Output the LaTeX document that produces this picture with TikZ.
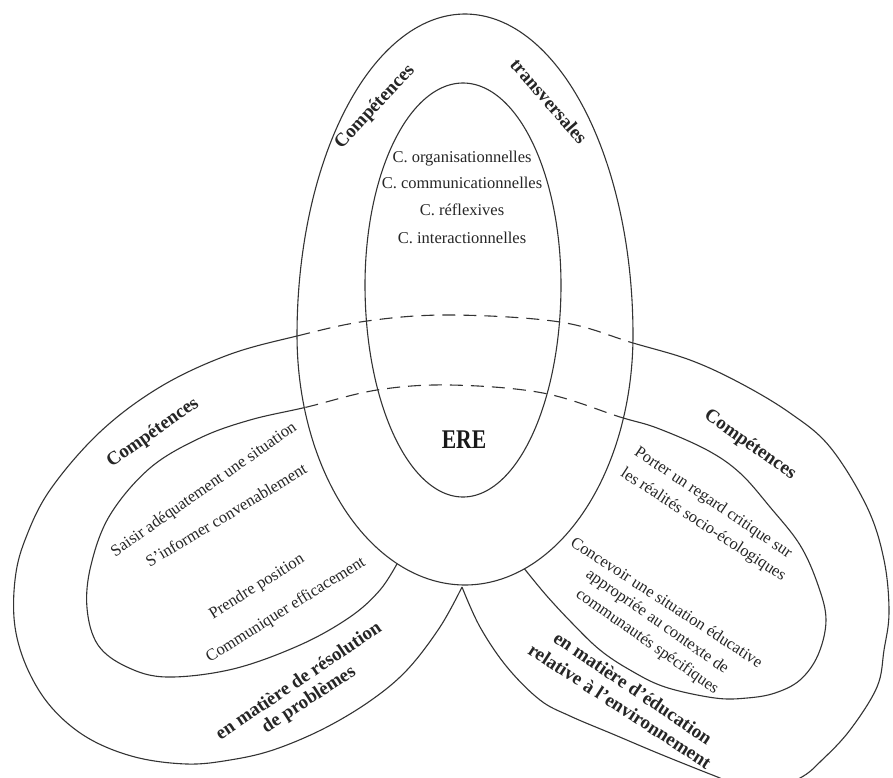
\documentclass[tikz,border=0pt]{standalone}
\usepackage{fontspec}
\setmainfont{Liberation Serif}
\begin{document}
\begin{tikzpicture}[x=1pt,y=-1pt,
  line width=1.1pt, draw=black!80,
  txt/.style={font=\fontsize{16.5}{18}\selectfont, text=black!85, inner sep=0pt},
  hd/.style={font=\fontsize{19}{22}\selectfont\bfseries, text=black!85, inner sep=0pt},
  big/.style={font=\fontsize{27}{29}\selectfont\bfseries, text=black!90, inner sep=0pt},
  hidden/.style={dash pattern=on 13pt off 8pt}]

\useasboundingbox (0,0) rectangle (893,777);
\fill[white] (0,0) rectangle (893,777);

% outer boundary of the upper ring (egg shape)
\newcommand{\ovalTop}{plot[domain=0:180,samples=120] ({465+168*cos(\x)},{335-321*sin(\x)})
  -- plot[domain=180:360,samples=120] ({465+168*cos(\x)},{335-250*sin(\x)}) -- cycle}
% outer boundary of the two lower rings (one band passing under the upper ring)
\newcommand{\bandOuter}{plot[smooth,tension=0.6] coordinates {
  (462,587) (440,627) (407,670) (370,701) (323,729) (273,750) (230,760) (187,764)
  (135,757) (88,738) (52,708) (28,670) (15,627) (15,580) (25,540) (50,490)
  (100,432) (160,387) (228,355) (297,336) (367,321) (450,315) (560,322) (633,343)
  (690,360) (740,383) (790,413) (830,447) (867,507) (884,560) (889,612) (884,650)
  (877,687) (850,730) (822,760) (800,778) (760,793) (715,776) (660,754) (615,735)
  (570,716) (540,700) (507,667) (480,627) (462,587)}}
% inner boundary of the two lower rings
\newcommand{\bandInner}{plot[smooth,tension=0.6] coordinates {
  (398,562) (380,590) (350,617) (300,645) (233,669) (167,677) (127,667) (98,645)
  (87,608) (91,565) (110,515) (150,468) (200,438) (250,420) (307,407) (377,390)
  (450,385) (543,393) (620,417) (657,428) (707,450) (740,473) (770,507) (800,545)
  (818,585) (826,620) (818,655) (800,680) (775,693) (747,698) (715,698) (665,687)
  (630,670) (600,650) (572,623) (546,595) (523,567)}}

% upper ring
\draw \ovalTop;
\draw plot[domain=0:180,samples=120] ({463+98*cos(\x)},{285-202*sin(\x)})
  -- plot[domain=180:360,samples=120] ({463+98*cos(\x)},{285-212*sin(\x)}) -- cycle;

% lower band: visible parts
\begin{scope}[even odd rule]
  \clip (-20,-20) rectangle (913,800) \ovalTop;
  \draw \bandOuter;
  \draw \bandInner;
\end{scope}
% lower band: parts hidden behind the upper ring
\begin{scope}
  \clip (0,0) rectangle (893,450);
  \clip \ovalTop;
  \draw[hidden] \bandOuter;
  \draw[hidden] \bandInner;
\end{scope}

% upper ring texts
\node[hd, rotate=47] (tTitleA) at (375,107) {Compétences};
\node[hd, rotate=-49] (tTitleB) at (549,101) {transversales};
\node[txt, anchor=base] (tl1) at (462,162) {C. organisationnelles};
\node[txt, anchor=base] (tl2) at (462,188) {C. communicationnelles};
\node[txt, anchor=base] (tl3) at (462,215) {C. réflexives};
\node[txt, anchor=base] (tl4) at (462,243) {C. interactionnelles};
\node[big, anchor=base] (ere) at (464,448) {\scalebox{0.8}[1]{ERE}};

% left ring texts
\node[hd, rotate=35] (lTitle) at (153,433) {Compétences};
\node[txt, rotate=35] (l1) at (204,490) {Saisir adéquatement une situation};
\node[txt, rotate=31] (l2) at (226,515) {S’informer convenablement};
\node[txt, rotate=32] (l3) at (257,587) {Prendre position};
\node[txt, rotate=32] (l4) at (286,610) {Communiquer efficacement};
\node[hd, rotate=34] (lSub1) at (298,680) {en matière de résolution};
\node[hd, rotate=33] (lSub2) at (309,700) {de problèmes};

% right ring texts
\node[hd, rotate=-35] (rTitle) at (750,445) {Compétences};
\node[txt, rotate=-34] (r1) at (713,503) {Porter un regard critique sur};
\node[txt, rotate=-33] (r2) at (703,525) {les réalités socio-écologiques};
\node[txt, rotate=-33] (r3) at (667,602) {Concevoir une situation éducative};
\node[txt, rotate=-35] (r4) at (657,622) {appropriée au contexte de};
\node[txt, rotate=-35] (r5) at (647,642) {communautés spécifiques};
\node[hd, rotate=-34] (rSub1) at (633,688) {en matière d’éducation};
\node[hd, rotate=-33] (rSub2) at (620,706) {relative à l’environnement};
\end{tikzpicture}
\end{document}
